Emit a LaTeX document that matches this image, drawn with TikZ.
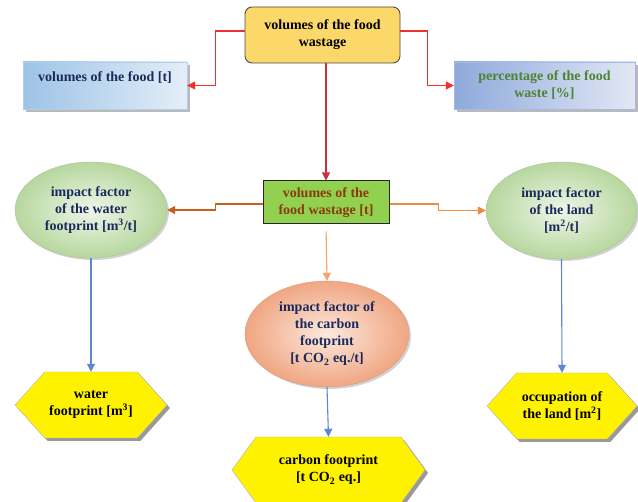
\documentclass[tikz,border=0pt]{standalone}
\usepackage{fontspec}
\setmainfont{Liberation Serif}
\usetikzlibrary{shapes.geometric,shapes.symbols,shadows,arrows.meta,calc}
\definecolor{topfill}{HTML}{FCD769}
\definecolor{navy}{HTML}{1A2A5C}
\definecolor{olivegreen}{HTML}{4F8233}
\definecolor{brownish}{HTML}{8B3A0E}
\definecolor{grnfill}{HTML}{92D050}
\definecolor{redline}{HTML}{EE3030}
\definecolor{darkred}{HTML}{C8323C}
\definecolor{orgdark}{HTML}{CB5E1E}
\definecolor{orglight}{HTML}{F08A3C}
\definecolor{orgpale}{HTML}{F5A36A}
\definecolor{blueline}{HTML}{5B87D3}
\definecolor{lbdark}{HTML}{9DC3E6}
\definecolor{lblight}{HTML}{E4EEF8}
\definecolor{rbdark}{HTML}{8EA9DB}
\definecolor{rblight}{HTML}{E2E8F5}
\definecolor{gedark}{HTML}{B7D79E}
\definecolor{gelight}{HTML}{EEF6E8}
\definecolor{pedark}{HTML}{F0A682}
\definecolor{pelight}{HTML}{FCE9DE}
\tikzset{
  txt/.style={font=\bfseries\fontsize{14}{17}\selectfont, align=center, inner sep=2pt},
  topbox/.style={txt, draw=black!70, fill=topfill, rounded corners=7pt, line width=0.9pt,
    minimum width=155pt, minimum height=56pt},
  bluebox/.style 2 args={txt, draw=#1!80!white, shading angle=-60, left color=#1, right color=#2,
    minimum height=47pt, drop shadow={shadow xshift=3pt,shadow yshift=-3pt,fill=gray!55,opacity=1}},
  greenbox/.style={txt, draw=black!85, fill=grnfill, line width=1pt, minimum width=126pt, minimum height=43pt, text=brownish},
  greenell/.style={txt, ellipse, inner sep=0pt, draw=gedark!80!gray, shade, inner color=gelight, outer color=gedark,
    text=navy, drop shadow={shadow xshift=2pt,shadow yshift=-2pt,fill=gray!35,opacity=1}},
  peachell/.style={txt, ellipse, inner sep=0pt, draw=pedark!80!gray, shade, inner color=pelight, outer color=pedark,
    text=navy, drop shadow={shadow xshift=2pt,shadow yshift=-2pt,fill=gray!35,opacity=1}},
  hexbox/.style={txt, signal, signal to=west and east, signal pointer angle=#1, draw=gray!60, fill=yellow,
    minimum height=66pt, inner sep=0pt, drop shadow={shadow xshift=3pt,shadow yshift=-3pt,fill=gray!80,opacity=1}},
  tip/.style={-{Triangle[length=8pt,width=8pt]}, line width=1.1pt},
}
\begin{document}
\begin{tikzpicture}[x=1pt,y=-1pt]
\useasboundingbox (0,0) rectangle (638,502);
% nodes
\node[topbox] (top) at (322.5,35) {volumes of the food\\wastage};
\node[bluebox={lbdark}{lblight}, minimum width=164pt, text=navy, text height=17pt, text depth=24pt, inner ysep=3pt] (lb) at (105,85.5) {volumes of the food [t]};
\node[bluebox={rbdark}{rblight}, minimum width=181pt, text=olivegreen] (rb) at (544.5,85.5) {percentage of the food\\waste [\%]};
\node[greenbox] (gb) at (326,202.5) {volumes of the\\food wastage [t]};
\node[greenell, minimum width=152pt, minimum height=96pt] (we) at (91,210) {impact factor\\of the water\\footprint [m\textsuperscript{3}/t]};
\node[greenell, minimum width=151pt, minimum height=97pt] (le) at (561.5,210.5) {impact factor\\of the land\\{}[m\textsuperscript{2}/t]};
\node[peachell, minimum width=164pt, minimum height=106pt] (ce) at (327,334) {impact factor of\\the carbon\\footprint\\{}[t CO\textsubscript{2} eq./t]};
\node[hexbox=96, minimum width=152pt] (wh) at (91,405) {water\\footprint [m\textsuperscript{3}]};
\node[hexbox=96, minimum width=150pt] (lh) at (562,406) {occupation of\\the land [m\textsuperscript{2}]};
\node[hexbox=108, minimum width=193pt] (ch) at (328.5,470) {carbon footprint\\{}[t CO\textsubscript{2} eq.]};
% connectors
\draw[tip, redline] ($(top.west)+(0,-4)$) -- ++(-29,0) |- (lb.east);
\draw[tip, redline] ($(top.east)+(0,-4)$) -- ++(27,0) |- (rb.west);
\draw[tip, darkred] (top.south -| gb.north) -- (gb.north);
\draw[tip, orgdark] ($(gb.west)+(0,1.5)$) -- ++(-47,0) |- (we.east);
\draw[tip, orglight] ($(gb.east)+(0,1.5)$) -- ++(49,0) |- (le.west);
\draw[tip, orgpale, shorten <=7pt] (gb.south) -- (ce.north);
\draw[tip, blueline] (we.south) -- (wh.north);
\draw[tip, blueline] (le.south) -- (lh.north);
\draw[tip, blueline] (ce.south) -- (ch.north);
\end{tikzpicture}
\end{document}
